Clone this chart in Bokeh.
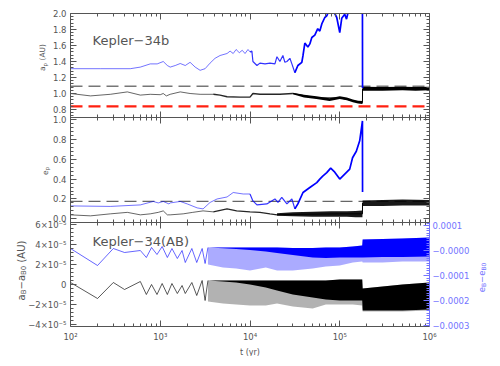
import math
from bokeh.plotting import figure
from bokeh.models import (Range1d, LinearAxis, LogAxis, FixedTicker, CustomJSTickFormatter, Label)
from bokeh.embed import file_html
from bokeh.resources import INLINE

NAN = float("nan")

# ------------------------------------------------------------------ data
T_MIN, T_MAX = 1e2, 1e6
X_MAJOR = [1e2, 1e3, 1e4, 1e5, 1e6]
X_MINOR = [k * 10 ** e for e in range(2, 6) for k in range(2, 10)]

# panel 1 : a_p (AU)   (NaN = off the top of the panel)
P1_LO, P1_HI = 0.7, 2.0
P1_TICKS = [0.8, 1.0, 1.2, 1.4, 1.6, 1.8, 2.0]
P1_GRAY_REF = 1.09
P1_RED_REF = 0.84
p1_blue_t = [100, 215, 464, 600, 774, 925, 1080, 1200, 1290, 1470, 1670, 1900, 2150, 2450, 2780,
             3160, 3590, 4080, 4640, 5550, 6000, 6500, 7000, 7600, 8200, 8800, 9500, 10000, 10500,
             10780, 11950, 12900, 14700, 16700, 18960, 19970, 21540, 23260, 24480, 25770, 27830,
             29290, 31620, 34150, 37790, 38950, 40840, 44120, 46420, 48840, 52730, 56890, 59950,
             63100, 68130, 71650, 73500, 80000, 88000, 92630, 100000, 105200, 113650, 119000,
             123000, 150000, 179000, 179500]
p1_blue_a = [1.31, 1.31, 1.31, 1.33, 1.37, 1.37, 1.40, 1.35, 1.33, 1.35, 1.375, 1.35, 1.39, 1.33, 1.29,
             1.31, 1.38, 1.44, 1.475, 1.50, 1.53, 1.50, 1.55, 1.51, 1.54, 1.50, 1.55, 1.52, 1.53,
             1.40, 1.35, 1.38, 1.37, 1.38, 1.37, 1.46, 1.40, 1.475, 1.39, 1.40, 1.44,
             1.37, 1.26, 1.35, 1.39, 1.475, 1.63, 1.58, 1.62, 1.70, 1.73, 1.81, 1.78,
             1.87, 1.95, 1.97, 2.0, NAN, 2.0, 1.95, 1.76, 1.94, 1.99, 1.93,
             2.0, NAN, 2.0, 1.07]
p1_black_t = [100, 167, 278, 430, 600, 774, 1000, 1080, 1170, 1290, 1670, 2150, 2780, 3900, 4640,
              5550, 7740, 10000, 10780, 12900, 21540, 30000, 55000, 100000, 179000, 179500]
p1_black_a = [1.00, 0.97, 0.99, 1.02, 0.98, 0.99, 0.985, 1.00, 0.97, 0.99, 1.02, 1.00, 0.99, 0.99, 0.98,
              0.96, 0.955, 0.955, 1.00, 0.99, 0.99, 1.00, 0.945, 0.945, 0.885, 1.06]
p1_band_t = [30000, 40000, 55000, 77000, 100000, 120000, 140000, 160000, 179000,
             179500, 300000, 500000, 700000, 1000000]
p1_band_hi = [1.01, 0.985, 0.965, 0.94, 0.965, 0.95, 0.925, 0.91, 0.905,
              1.085, 1.08, 1.085, 1.08, 1.085]
p1_band_lo = [0.99, 0.95, 0.93, 0.905, 0.93, 0.915, 0.89, 0.875, 0.87,
              1.035, 1.035, 1.04, 1.035, 1.04]

# panel 2 : e_p
P2_LO, P2_HI = -0.037, 1.02
P2_TICKS = [0.0, 0.2, 0.4, 0.6, 0.8, 1.0]
P2_GRAY_REF = 0.175
p2_blue_t = [100, 278, 600, 836, 950, 1080, 1250, 1290, 1670, 2000, 2580, 3000, 3590, 4300, 5550,
             6500, 8400, 10000, 10780, 11950, 15400, 18960, 20500, 22600, 25770, 29290, 31620,
             34150, 38950, 46420, 55450, 59950, 64630, 71650, 79250, 87990, 100000, 113650,
             129150, 138900, 153000, 166800, 175000, 179000, 179500]
p2_blue_e = [0.13, 0.125, 0.14, 0.175, 0.16, 0.175, 0.15, 0.16, 0.175, 0.15, 0.11, 0.10, 0.165, 0.20, 0.22,
             0.265, 0.25, 0.25, 0.18, 0.14, 0.15, 0.20, 0.165, 0.215, 0.15, 0.20, 0.10,
             0.15, 0.265, 0.315, 0.365, 0.40, 0.43, 0.465, 0.51, 0.47, 0.40, 0.45,
             0.50, 0.615, 0.68, 0.785, 0.92, 0.985, 0.27]
p2_black_t = [100, 167, 278, 430, 600, 774, 950, 1080, 1200, 1290, 1800, 2300, 3000, 3900, 5550,
              7100, 10000, 12900, 16700, 20000, 30000, 100000, 179000, 179500]
p2_black_e = [0.04, 0.03, 0.05, 0.065, 0.04, 0.05, 0.065, 0.08, 0.04, 0.04, 0.05, 0.065, 0.08, 0.07, 0.10,
              0.08, 0.07, 0.065, 0.05, 0.04, 0.045, 0.05, 0.05, 0.16]
p2_band_t = [20000, 30000, 50000, 80000, 120000, 150000, 179000, 179500, 300000, 500000, 1000000]
p2_band_hi = [0.055, 0.065, 0.07, 0.075, 0.075, 0.08, 0.085, 0.185, 0.19, 0.195, 0.19]
p2_band_lo = [0.03, 0.025, 0.02, 0.02, 0.02, 0.015, 0.015, 0.13, 0.13, 0.135, 0.135]

# panel 3 : a_B - a_B0 (AU, left) and e_B - e_B0 (right), values in units of 1e-5
P3L_LO, P3L_HI = -4.2e-5, 6.2e-5
P3R_LO, P3R_HI = -3.04e-4, 1.12e-4
P3L_TICKS = [-4e-5, -2e-5, 0.0, 2e-5, 4e-5, 6e-5]
P3R_TICKS = [-3e-4, -2e-4, -1e-4, 0.0, 1e-4]
p3_t = [100, 200, 300, 400, 600, 700, 800, 920, 1050, 1200, 1350, 1550, 1750, 1900, 2250, 2550,
        2930, 3160, 3400]
p3_blue_e5 = [0.8, -6.0, 0.8, -0.8, 0.0, -2.8, 1.2, -1.6, 1.6, -2.8, 0.8, -3.2, 0.0, -4.8, 0.8, -4.8,
              0.8, -5.2, 1.2]
p3_black_a5 = [0.2, -1.4, 0.2, -0.5, 0.3, -1.0, 0.0, -1.0, 0.1, -1.0, 0.1, -0.9, -0.1, -0.9, 0.2, -1.1,
               0.4, -1.6, 0.4]
p3_band_t = [3400, 5000, 7000, 10000, 15000, 20000, 30000, 50000, 70000, 100000, 140000, 178000,
             180000, 300000, 500000, 1000000]
p3_blue_top5 = [1.2, 1.2, 1.2, 1.2, 1.2, 1.2, 1.0, 1.0, 1.2, 1.2, 1.6, 2.0, 4.4, 4.6, 4.8, 5.2]
p3_blue_core5 = [1.2, 0.9, 0.6, 0.2, -0.4, -1.0, -1.8, -2.8, -3.0, -2.8, -2.8, -2.8, -2.8, -2.6, -2.6, -2.4]
p3_blue_spike5 = [-5.6, -6.8, -7.2, -8.0, -6.8, -8.0, -8.0, -7.2, -6.4, -6.0, -4.8, -4.4, -4.8, -4.8, -4.4, -4.4]
p3_black_top5 = [0.4, 0.4, 0.4, 0.4, 0.4, 0.4, 0.4, 0.4, 0.4, 0.5, 0.5, 0.5, -0.4, -0.2, 0.0, 0.2]
p3_black_core5 = [0.4, 0.3, 0.2, 0.0, -0.3, -0.6, -1.0, -1.3, -1.5, -1.6, -1.6, -1.6, -2.6, -2.6, -2.6, -2.5]
p3_black_spike5 = [-1.7, -1.9, -2.0, -2.1, -2.1, -1.9, -2.2, -2.4, -2.0, -2.0, -2.0, -2.1, -2.7, -2.7, -2.7, -2.6]

# ------------------------------------------------------------------ layout (canvas pixels)
W, H = 494, 356
PL, PR = 70, 429                    # plot box left / right
PANEL_Y = {"p1": (13, 117), "p2": (117, 222), "p3": (222, 326)}   # top, bottom
AX = "#555555"
TXT = "#555555"
BLUE = "#0000ff"
RBLUE = "#7474ff"
FONT = "DejaVu Sans"
TICK_FS = "8.5px"

DEC_PX = (PR - PL) / 4.0
X_START = 10 ** (2 - PL / DEC_PX)
X_END = 10 ** (6 + (W - PR) / DEC_PX)


def ext(lo, hi, panel):
    top, bot = PANEL_Y[panel]
    s = (hi - lo) / (bot - top)
    start = lo - (H - bot) * s
    return Range1d(start, start + H * s)


p = figure(width=W, height=H, x_axis_type="log", x_range=Range1d(X_START, X_END),
           y_range=ext(P3L_LO, P3L_HI, "p3"), output_backend="svg", toolbar_location=None,
           x_axis_location=None, y_axis_location=None,
           min_border_left=0, min_border_right=0, min_border_top=0, min_border_bottom=0)
p.extra_y_ranges = {"p1": ext(P1_LO, P1_HI, "p1"), "p2": ext(P2_LO, P2_HI, "p2"),
                    "p3r": ext(P3R_LO, P3R_HI, "p3")}
p.grid.visible = False
p.outline_line_color = None
p.background_fill_color = "white"
p.border_fill_color = "white"

X_FMT = r"""
const sup = {"0":"\u2070","1":"\u00b9","2":"\u00b2","3":"\u00b3","4":"\u2074","5":"\u2075",
             "6":"\u2076","7":"\u2077","8":"\u2078","9":"\u2079","-":"\u207b"};
const e = Math.round(Math.log10(tick));
return "10" + String(e).split("").map(c => sup[c]).join("");
"""


def blank():
    return CustomJSTickFormatter(code='return "";')


def style(ax, color=AX, tin=6, tout=0, min_in=3, min_out=0, line_color=AX):
    ax.major_tick_in, ax.major_tick_out = tin, tout
    ax.minor_tick_in, ax.minor_tick_out = min_in, min_out
    ax.major_tick_line_color = color
    ax.minor_tick_line_color = color
    ax.major_label_text_font = FONT
    ax.major_label_text_font_size = TICK_FS
    ax.major_label_text_color = TXT if color == AX else color
    ax.axis_line_color = line_color


def minor_list(lo, hi, step, majors):
    out = []
    v = lo
    while v <= hi + 1e-12:
        if all(abs(v - m) > step * 1e-3 for m in majors):
            out.append(v)
        v += step
    return out


# ---------------------------------------------------------------- data marks
def seg(ts, vs, t0, t1):
    pts = [(t, v) for t, v in zip(ts, vs) if t0 <= t <= t1]
    return [a for a, _ in pts], [b for _, b in pts]


LINE_STYLES = [((0, 10000), 0.55, 1.0), ((10000, 31620), 0.8, 1.2), ((31620, 2e6), 1.0, 1.7)]


def styled_line(ts, vs, color, rname, styles):
    for (t0, t1), alpha, width in styles:
        xs, ys = seg(ts, vs, t0, t1)
        if len(xs) > 1:
            p.line(xs, ys, line_color=color, line_alpha=alpha, line_width=width,
                   y_range_name=rname)


# reference dashed lines (inside the plot box)
for rname, ref, color, width in (("p1", P1_GRAY_REF, "#777777", 1.5), ("p1", P1_RED_REF, "#ff2010", 2.2),
                                 ("p2", P2_GRAY_REF, "#666666", 1.3)):
    p.line([T_MIN, T_MAX], [ref, ref], line_color=color, line_width=width, line_dash="12 6",
           y_range_name=rname)

# panel 1
styled_line(p1_black_t, p1_black_a, "black", "p1",
            [((0, 3900), 0.6, 1.0), ((3900, 30000), 0.85, 1.4), ((30000, 2e6), 1.0, 1.0)])
p.varea(x=p1_band_t, y1=p1_band_lo, y2=p1_band_hi, fill_color="black", y_range_name="p1")
styled_line(p1_blue_t, p1_blue_a, BLUE, "p1", LINE_STYLES)

# panel 2
styled_line(p2_black_t, p2_black_e, "black", "p2",
            [((0, 3900), 0.6, 1.0), ((3900, 20000), 0.85, 1.3), ((20000, 2e6), 1.0, 1.0)])
p.varea(x=p2_band_t, y1=p2_band_lo, y2=p2_band_hi, fill_color="black", fill_alpha=0.9,
        y_range_name="p2")
styled_line(p2_blue_t, p2_blue_e, BLUE, "p2", LINE_STYLES)

# panel 3
E5 = 1e-5
p.line(p3_t, [v * E5 for v in p3_black_a5], line_color="black", line_alpha=0.65, line_width=1)
p.varea(x=p3_band_t, y1=[v * E5 for v in p3_black_spike5], y2=[v * E5 for v in p3_black_top5],
        fill_color="black", fill_alpha=0.3)
p.varea(x=p3_band_t, y1=[v * E5 for v in p3_black_core5], y2=[v * E5 for v in p3_black_top5],
        fill_color="black", fill_alpha=1.0)
p.line(p3_t, [v * E5 for v in p3_blue_e5], line_color=BLUE, line_alpha=0.6, line_width=1,
       y_range_name="p3r")
p.varea(x=p3_band_t, y1=[v * E5 for v in p3_blue_spike5], y2=[v * E5 for v in p3_blue_top5],
        fill_color=BLUE, fill_alpha=0.33, y_range_name="p3r")
p.varea(x=p3_band_t, y1=[v * E5 for v in p3_blue_core5], y2=[v * E5 for v in p3_blue_top5],
        fill_color=BLUE, fill_alpha=1.0, y_range_name="p3r")

# ---------------------------------------------------------------- axes
xa = LogAxis(fixed_location=P3L_LO, bounds=(T_MIN, T_MAX),
             ticker=FixedTicker(ticks=X_MAJOR, minor_ticks=X_MINOR),
             formatter=CustomJSTickFormatter(code=X_FMT))
style(xa)
xa.major_label_standoff = 5
xa.axis_label = "t (yr)"
xa.axis_label_text_font_style = "normal"
xa.axis_label_text_font = FONT
xa.axis_label_text_font_size = "8px"
xa.axis_label_text_color = TXT
xa.axis_label_standoff = 3
p.add_layout(xa, "below")

for rname, loc, side, tout in (("p1", P1_HI, "above", 0), ("p1", P1_LO, "below", 6),
                               ("p2", P2_LO, "below", 6)):
    ax = LogAxis(y_range_name=rname, fixed_location=loc, bounds=(T_MIN, T_MAX),
                 ticker=FixedTicker(ticks=X_MAJOR, minor_ticks=X_MINOR), formatter=blank())
    style(ax, tout=tout, min_out=3 if tout else 0)
    p.add_layout(ax, side)

P3L_FMT = r"""
if (Math.abs(tick) < 1e-12) return "0";
const m = Math.round(tick / 1e-5);
return (m < 0 ? "\u2212" : "") + Math.abs(m) + "\u00d710\u207b\u2075";
"""
P3R_FMT = r"""
const s = Math.abs(tick).toFixed(4);
return (tick > 1e-12 ? "" : "\u2212") + s;
"""
Y_AXES = [
    ("p1", P1_LO, P1_HI, P1_TICKS, minor_list(0.72, 1.96, 0.04, P1_TICKS), "return tick.toFixed(1);"),
    ("p2", P2_LO, P2_HI, P2_TICKS, minor_list(0.0, 1.0, 0.04, P2_TICKS), "return tick.toFixed(1);"),
    ("default", P3L_LO, P3L_HI, P3L_TICKS, minor_list(-4e-5, 6e-5, 0.4e-5, P3L_TICKS), P3L_FMT),
]
for rname, lo, hi, majors, minors, code in Y_AXES:
    la = LinearAxis(y_range_name=rname, fixed_location=T_MIN, bounds=(lo, hi),
                    ticker=FixedTicker(ticks=majors, minor_ticks=minors),
                    formatter=CustomJSTickFormatter(code=code))
    style(la)
    la.major_label_standoff = 4
    p.add_layout(la, "left")
    if rname != "default":
        rax = LinearAxis(y_range_name=rname, fixed_location=T_MAX, bounds=(lo, hi),
                         ticker=FixedTicker(ticks=majors, minor_ticks=minors), formatter=blank())
        style(rax)
        p.add_layout(rax, "right")

ra3 = LinearAxis(y_range_name="p3r", fixed_location=T_MAX, bounds=(P3R_LO, P3R_HI),
                 ticker=FixedTicker(ticks=P3R_TICKS,
                                    minor_ticks=minor_list(-3e-4, 1.1e-4, 1e-5, P3R_TICKS)),
                 formatter=CustomJSTickFormatter(code=P3R_FMT))
style(ra3, color=RBLUE, line_color=RBLUE)
ra3.major_label_standoff = 3
p.add_layout(ra3, "right")

# ---------------------------------------------------------------- texts
p.add_layout(Label(x=T_MIN, y=1.6625, y_range_name="p1", x_offset=22, text="Kepler\u221234b",
                   text_font=FONT, text_font_size="13px", text_color=TXT,
                   text_baseline="alphabetic"))
p.add_layout(Label(x=T_MIN, y=4.3e-5, x_offset=22, text="Kepler\u221234(AB)",
                   text_font=FONT, text_font_size="13px", text_color=TXT,
                   text_baseline="alphabetic"))

CW = {"a": .613, "e": .615, "p": .635, "B": .686, "0": .636, "(": .390, ")": .390, "A": .684,
      "U": .732, " ": .318, "\u00a0": .318, "\u2212": .838}


def tw(s, size):
    return sum(CW.get(c, 0.6) for c in s) * size


def vtitle(pieces, x, x_off, y, rname, color, sub_shift):
    total = sum(tw(t, sz) for t, sz, _ in pieces)
    off = -total / 2
    for t, sz, sub in pieces:
        kw = dict(x=x, y=y, x_offset=x_off + (sub_shift if sub else 0), y_offset=off, text=t,
                  angle=math.pi / 2, text_align="left", text_baseline="alphabetic",
                  text_font=FONT, text_font_size="%gpx" % sz, text_color=color)
        if rname:
            kw["y_range_name"] = rname
        p.add_layout(Label(**kw))
        off += tw(t, sz)


vtitle([("a", 7.5, False), ("p", 5.5, True), ("\u00a0(AU)", 7.5, False)], T_MIN, -28, 1.45, "p1", TXT, 2)
vtitle([("e", 7.5, False), ("p", 5.5, True)], T_MIN, -26, 0.483, "p2", TXT, 2)
vtitle([("a", 10, False), ("B", 7, True), ("\u2212a", 10, False), ("B0", 7, True),
        ("\u00a0(AU)", 10, False)], T_MIN, -49, 1.4e-5, None, TXT, 2.5)
vtitle([("e", 8.5, False), ("B", 6, True), ("\u2212e", 8.5, False), ("B0", 6, True)],
       T_MAX, 52, -1.08e-4, "p3r", RBLUE, 2)

open("out.html", "w").write(file_html(p, INLINE))
